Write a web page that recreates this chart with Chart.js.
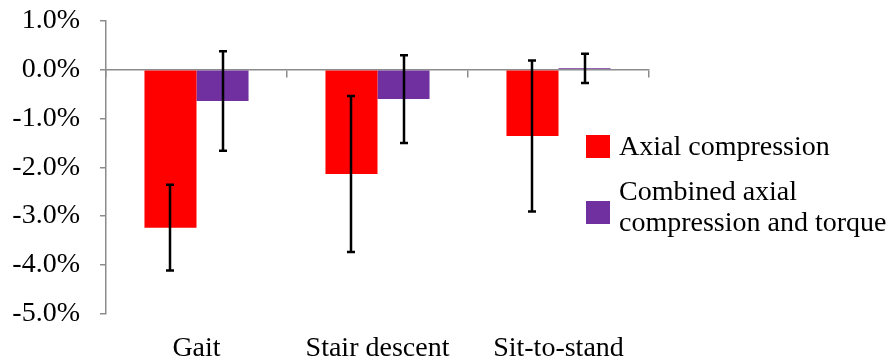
<!DOCTYPE html>
<html>
<head>
<meta charset="utf-8">
<script src="https://cdn.jsdelivr.net/npm/chart.js@4"></script>
<style>
  html, body { margin: 0; padding: 0; background: #fff; }
  #wrap { width: 894px; height: 362px; }
</style>
</head>
<body>
<div id="wrap"><canvas id="strainChart"></canvas></div>
<script>
const tasks = ['Gait', 'Stair descent', 'Sit-to-stand'];
const axialMean = [-3.24, -2.14, -1.36];
const axialSD = [0.88, 1.6, 1.55];
const combinedMean = [-0.64, -0.60, 0.03];
const combinedSD = [1.02, 0.9, 0.3];
const seriesNames = ['Axial compression', ['Combined axial', 'compression and torque']];
const yTicks = [1, 0, -1, -2, -3, -4, -5];

const axisGrey = '#8c8c8c';
const serif = 'Liberation Serif, Times New Roman, serif';
const fontPx = 28;

// error bars: a vertical whisker with caps at mean +/- sd
const errorBars = {
  id: 'errorBars',
  afterDatasetsDraw(chart) {
    const ctx = chart.ctx;
    const y = chart.scales.y;
    ctx.save();
    ctx.strokeStyle = '#000';
    ctx.lineWidth = 2.5;
    chart.data.datasets.forEach((ds, di) => {
      const meta = chart.getDatasetMeta(di);
      meta.data.forEach((bar, i) => {
        const top = y.getPixelForValue(ds.data[i] + ds.sd[i]);
        const bot = y.getPixelForValue(ds.data[i] - ds.sd[i]);
        const cx = Math.round(bar.x);
        ctx.beginPath();
        ctx.moveTo(cx, top);
        ctx.lineTo(cx, bot);
        ctx.moveTo(cx - 4, top);
        ctx.lineTo(cx + 4, top);
        ctx.moveTo(cx - 4, bot);
        ctx.lineTo(cx + 4, bot);
        ctx.stroke();
      });
    });
    ctx.restore();
  }
};

// legend tucked in at the lower right, second label wraps over two lines
const sideLegend = {
  id: 'sideLegend',
  afterDraw(chart) {
    const ctx = chart.ctx;
    const left = chart.chartArea.right - 63;
    const rows = [146, 212];
    const lh = 31;
    ctx.save();
    ctx.font = fontPx + 'px ' + serif;
    ctx.textBaseline = 'alphabetic';
    chart.data.datasets.forEach((ds, di) => {
      const cy = rows[di];
      ctx.fillStyle = ds.backgroundColor;
      ctx.fillRect(left, cy - 11, 24, 23);
      ctx.fillStyle = '#000';
      const lines = Array.isArray(ds.label) ? ds.label : [ds.label];
      const n = lines.length;
      lines.forEach((t, k) => {
        const base = cy + 9 + (k - (n - 1)) * lh + (n - 1) * 10;
        ctx.fillText(t, left + 33, base);
      });
    });
    ctx.restore();
  }
};

new Chart(document.getElementById('strainChart'), {
  type: 'bar',
  data: {
    labels: tasks,
    datasets: [
      { label: seriesNames[0], data: axialMean, sd: axialSD, backgroundColor: '#ff0000' },
      { label: seriesNames[1], data: combinedMean, sd: combinedSD, backgroundColor: '#7030a0' }
    ]
  },
  options: {
    responsive: true,
    maintainAspectRatio: false,
    animation: false,
    layout: { padding: { top: 21, right: 245, left: 0, bottom: 0 } },
    datasets: { bar: { categoryPercentage: 0.575, barPercentage: 1.0 } },
    plugins: { legend: { display: false }, tooltip: { enabled: false } },
    scales: {
      x: {
        grid: { display: false },
        border: { display: false },
        ticks: { color: '#000', font: { family: serif, size: fontPx }, padding: 10 },
        afterFit(s) { s.height = 48.5; }
      },
      // zero line with category ticks hanging below it
      zero: {
        type: 'category',
        axis: 'x',
        labels: tasks,
        position: { y: 0 },
        offset: true,
        grid: { offset: true, drawOnChartArea: false, drawTicks: true, tickLength: 7, color: axisGrey, lineWidth: 1.5 },
        border: { color: axisGrey, width: 1.5 },
        ticks: { display: false },
        afterFit(s) { s.height = 0; }
      },
      y: {
        min: -5,
        max: 1,
        afterBuildTicks(s) { s.ticks = yTicks.map(v => ({ value: v })); },
        grid: { drawOnChartArea: false, drawTicks: true, tickLength: 6, color: axisGrey, lineWidth: 1.5 },
        border: { color: axisGrey, width: 1.5 },
        ticks: {
          color: '#000',
          font: { family: serif, size: fontPx },
          padding: 20,
          callback: v => v.toFixed(1) + '%'
        },
        afterFit(s) {
          s.width = 106;
          s.paddingTop = 0;
          s.paddingBottom = 0;
        }
      }
    }
  },
  plugins: [errorBars, sideLegend]
});
</script>
</body>
</html>
